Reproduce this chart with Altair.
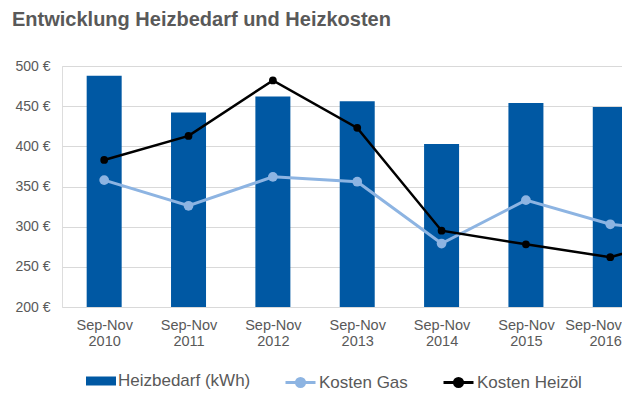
import altair as alt
import pandas as pd

years = [2010, 2011, 2012, 2013, 2014, 2015, 2016, 2017]
heizbedarf = [488, 442, 462, 456, 403, 454, 449]
kosten_gas = [358, 326, 362, 356, 279, 333, 303, 292]
kosten_heizoel = [383, 413, 482, 423, 295, 278, 262, 292]
y_ticks = [200, 250, 300, 350, 400, 450, 500]

S_BAR = "Heizbedarf (kWh)"
S_GAS = "Kosten Gas"
S_OIL = "Kosten Heizöl"
C_BAR = "#0058A3"
C_GAS = "#8DB4E2"
C_OIL = "#000000"

rows = []
for i, v in enumerate(heizbedarf):
    rows.append({"idx": i, "jahr": years[i], "serie": S_BAR, "wert": v})
for i, v in enumerate(kosten_gas):
    rows.append({"idx": i, "jahr": years[i], "serie": S_GAS, "wert": v})
for i, v in enumerate(kosten_heizoel):
    rows.append({"idx": i, "jahr": years[i], "serie": S_OIL, "wert": v})
df = pd.DataFrame(rows)

FONT = "Liberation Sans"
GREY = "#595959"

SWATCH = "M-1,-0.3H1V0.3H-1Z"
LINEDOT = "M-1,0H1M-0.27,0A0.27,0.27,0,1,0,0.27,0A0.27,0.27,0,1,0,-0.27,0Z"


def make_legend(x, shape, color, sw):
    return alt.Legend(
        title=None, orient="none", direction="horizontal",
        legendX=x, legendY=300, padding=0,
        symbolType=shape, symbolSize=900, symbolFillColor=color,
        symbolStrokeColor=color, symbolStrokeWidth=sw, symbolOpacity=1,
        labelFontSize=17, labelFont=FONT, labelColor=GREY,
        labelOffset=2, labelLimit=300,
    )


x_enc = alt.X("idx:Q",
              scale=alt.Scale(domain=[-0.5, 6.139], nice=False, zero=False, padding=0),
              axis=alt.Axis(title=None, values=list(range(7)), grid=False,
                            domain=False, ticks=False, tickSize=0,
                            labelExpr="['Sep-Nov', '' + (2010 + datum.value)]",
                            labelFontSize=14.5, labelFont=FONT, labelColor=GREY,
                            labelPadding=11, labelLineHeight=16,
                            labelBaseline="top", labelFlush=False,
                            labelAlign={"condition": {"test": "datum.value == 6", "value": "right"},
                                        "value": "center"},
                            labelOffset={"condition": {"test": "datum.value == 6", "value": 11},
                                         "value": 0}))
y_enc = alt.Y("wert:Q",
              scale=alt.Scale(domain=[200, 500], nice=False, zero=False, padding=0),
              axis=alt.Axis(title=None, values=y_ticks, grid=True,
                            gridColor="#D9D9D9", gridWidth=1,
                            domain=False, ticks=False, tickSize=0,
                            labelExpr="datum.value + ' €'",
                            labelFontSize=14, labelFont=FONT, labelColor=GREY,
                            labelPadding=12))

base = alt.Chart(df)

bars = base.transform_filter(alt.datum.serie == S_BAR).mark_bar(size=35, clip=True).encode(
    x=x_enc, y=y_enc,
    color=alt.Color("serie:N", scale=alt.Scale(domain=[S_BAR], range=[C_BAR]),
                    legend=make_legend(24, SWATCH, C_BAR, 0)),
)

gas = base.transform_filter(alt.datum.serie == S_GAS).mark_line(
    strokeWidth=3, clip=True,
    point=alt.OverlayMarkDef(size=95, filled=True, opacity=1, clip=True),
).encode(x=x_enc, y=y_enc,
         color=alt.Color("serie:N", scale=alt.Scale(domain=[S_GAS], range=[C_GAS]),
                         legend=make_legend(222, LINEDOT, C_GAS, 3)))

oil = base.transform_filter(alt.datum.serie == S_OIL).mark_line(
    strokeWidth=2.5, clip=True,
    point=alt.OverlayMarkDef(size=60, filled=True, opacity=1, clip=True),
).encode(x=x_enc, y=y_enc,
         color=alt.Color("serie:N", scale=alt.Scale(domain=[S_OIL], range=[C_OIL]),
                         legend=make_legend(380, LINEDOT, C_OIL, 3)))

chart = alt.layer(bars, gas, oil).resolve_scale(color="independent").resolve_legend(
    color="independent"
).properties(
    width=560, height=241,
    autosize="none",
    padding={"left": 54, "top": 58, "right": 0, "bottom": 95},
    title=alt.Title("Entwicklung Heizbedarf und Heizkosten", anchor="start",
                    frame="group", dx=-50, offset=29,
                    fontSize=20, font=FONT, fontWeight="bold", color=GREY),
).configure_view(stroke=None).configure(background="white")

chart.save("out.html", embed_options={"renderer": "svg", "actions": False})
